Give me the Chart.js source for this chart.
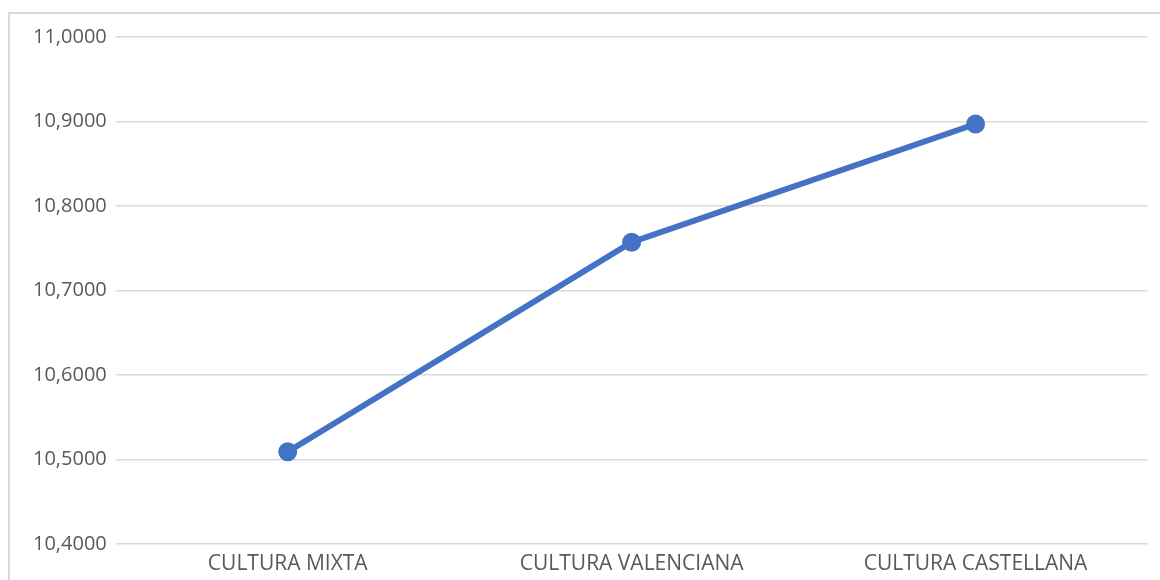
<!DOCTYPE html>
<html>
<head>
<meta charset="utf-8">
<script src="https://cdn.jsdelivr.net/npm/chart.js@4"></script>
<style>
  html, body { margin: 0; padding: 0; background: #fff; overflow: hidden; }
  #frame { position: absolute; left: 8px; top: 12px; width: 1170px; height: 590px; border: 2px solid #d9d9d9; box-sizing: border-box; }
  #wrap { position: absolute; left: 0; top: 0; width: 1160px; height: 600px; }
</style>
</head>
<body>
<div id="frame"></div>
<div id="wrap"><canvas id="chart1"></canvas></div>
<script>
// data
const categories = ['CULTURA MIXTA', 'CULTURA VALENCIANA', 'CULTURA CASTELLANA'];
const values = [10.509, 10.757, 10.897];
const yMin = 10.4;
const yMax = 11.0;
const yStep = 0.1;

const ctx = document.getElementById('chart1').getContext('2d');
new Chart(ctx, {
    type: 'line',
    data: {
        labels: categories,
        datasets: [{
            data: values,
            borderColor: '#4472C4',
            backgroundColor: '#4472C4',
            borderWidth: 6,
            pointRadius: 6.5,
            pointHoverRadius: 6.5,
            tension: 0
        }]
    },
    options: {
        responsive: true,
        maintainAspectRatio: false,
        animation: false,
        layout: { padding: { left: 24, right: 12, top: 37, bottom: 23 } },
        plugins: { legend: { display: false }, tooltip: { enabled: false } },
        scales: {
            x: {
                offset: true,
                grid: { display: false },
                border: { display: false },
                ticks: { color: '#595959', font: { family: 'Open Sans', size: 21 }, padding: 0, maxRotation: 0 }
            },
            y: {
                min: yMin,
                max: yMax,
                grid: { color: '#d9d9d9', lineWidth: 1.5, drawTicks: false },
                border: { display: false },
                ticks: {
                    stepSize: yStep,
                    color: '#595959',
                    font: { family: 'Open Sans', size: 20 },
                    padding: 9,
                    callback: (v) => v.toFixed(4).replace('.', ',')
                }
            }
        }
    }
});
</script>
</body>
</html>
